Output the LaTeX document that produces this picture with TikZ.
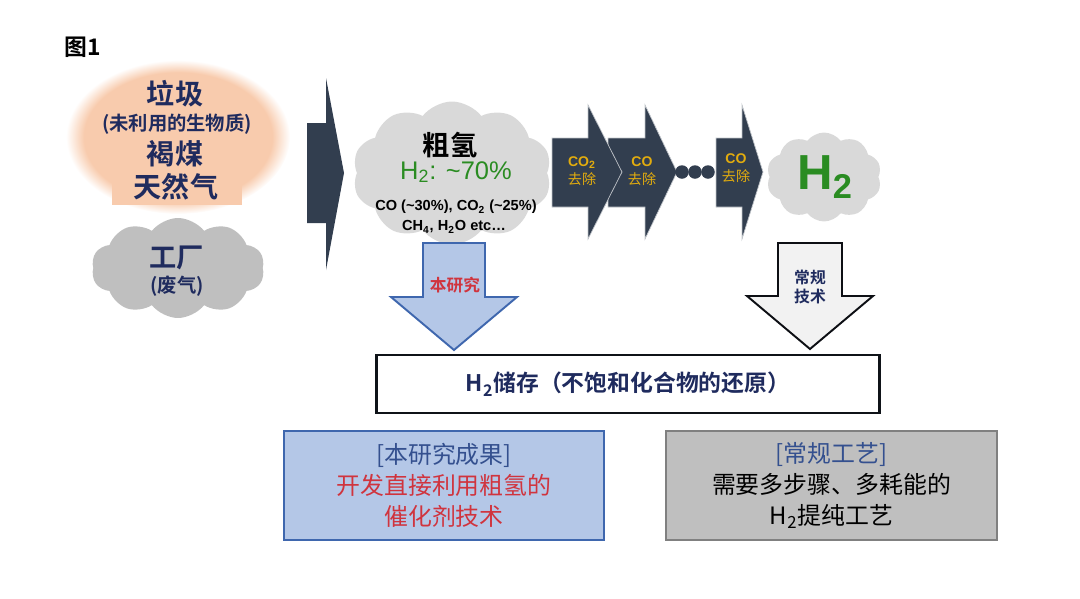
\documentclass[tikz,border=0pt]{standalone}
\usepackage{fontspec}
\usepackage{xcolor}
\usepackage{tikz}
\usetikzlibrary{shapes.symbols}
\setmainfont{Liberation Sans}
\newfontfamily\cjk{Noto Sans CJK SC}[BoldFont={Noto Sans CJK SC Bold}]
\newcommand\setfs[2]{\fontsize{#1}{#2}\selectfont}
\definecolor{navy}{HTML}{1F2B5E}
\definecolor{slate}{HTML}{323E4F}
\definecolor{peach}{HTML}{F8CBAD}
\definecolor{fog}{HTML}{D9D9D9}
\definecolor{smoke}{HTML}{BFBFBF}
\definecolor{leaf}{HTML}{2A8C22}
\definecolor{gold}{HTML}{E2AC0E}
\definecolor{paleblue}{HTML}{B4C7E7}
\definecolor{edgeblue}{HTML}{3F67AE}
\definecolor{redtext}{HTML}{D0343E}
\definecolor{headblue}{HTML}{34508F}
\pgfdeclareradialshading{softpeach}{\pgfpoint{0bp}{0bp}}{color(0bp)=(peach); color(21bp)=(peach); color(25bp)=(white); color(50bp)=(white)}

\begin{document}
\begin{tikzpicture}[x=0.02cm, y=-0.02cm,
  every node/.style={inner sep=0pt, align=center},
  puff/.style={cloud, cloud puffs=10, cloud puff arc=105, cloud ignores aspect, draw=none, inner sep=0pt},
  source/.style={font=\cjk\bfseries\setfs{16}{19}, text=navy},
  note/.style={font=\cjk\bfseries\setfs{11}{13}, text=navy},
  chevron/.style={fill=slate, draw=white!70!slate, line width=0.4pt},
  dot/.style={circle, fill=slate, minimum size=0.27cm},
  steplabel/.style={font=\setfs{8}{10.5}, text=gold},
  downarrow/.style={line width=1.1pt, line join=miter},
  panel/.style={minimum height=2.18cm, line width=1.1pt, font=\cjk\setfs{13.6}{17.5}}
]
\useasboundingbox (0,0) rectangle (1080,599);

% Title
\node[font=\cjk\bfseries\setfs{13}{15}] (fig) at (83,47) {图1};

% Sources
\shade[shading=softpeach] (178,137) ellipse [x radius=112, y radius=77];
\fill[peach] (112,150) rectangle (242,205);
\node[source] (waste) at (175,94) {垃圾};
\node[note] (bio) at (177,124) {(未利用的生物质)};
\node[source] (lignite) at (175,154) {褐煤};
\node[source] (gas) at (176,187) {天然气};

\node[puff, fill=smoke, minimum width=3.46cm, minimum height=2cm] (plantcloud) at (178,268) {};
\node[source, font=\cjk\bfseries\setfs{15.5}{18}] (plant) at (177,258) {工厂};
\node[note] (exhaust) at (177,286) {(废气)};

% Big arrow
\fill[slate] (307,123) -- (326,123) -- (326,78) -- (344,173) -- (326,270) -- (326,223) -- (307,223) -- cycle;

% Crude hydrogen
\node[puff, fill=fog, minimum width=3.98cm, minimum height=2.86cm] (crudecloud) at (452,173) {};
\node[font=\cjk\bfseries\setfs{15.5}{18}] (crude) at (450,145) {粗氢};
\node[font=\setfs{14.5}{17}, text=leaf] (ratio) at (456,172) {H\textsubscript{2}: \textasciitilde70\%};
\node[font=\bfseries\setfs{8.3}{10}] (mix1) at (456,207) {CO (\textasciitilde30\%), CO\textsubscript{2} (\textasciitilde25\%)};
\node[font=\bfseries\setfs{8.3}{10}] (mix2) at (454,227) {CH\textsubscript{4}, H\textsubscript{2}O etc…};

% Purification steps
\foreach \xa/\xb/\xc in {716/742/763, 608/645/677, 552/588/622}
  \filldraw[chevron] (\xa,138) -- (\xb,138) -- (\xb,105) -- (\xc,172) -- (\xb,239) -- (\xb,207) -- (\xa,207) -- cycle;
\foreach \x [count=\i] in {682,695,708}
  \node[dot] (dot\i) at (\x,172) {};
\node[steplabel] (co2cut) at (582,171) {\textbf{CO\textsubscript{2}}\\{\cjk 去除}};
\node[steplabel] (cocut) at (642,171) {\textbf{CO}\\{\cjk 去除}};
\node[steplabel] (cocut2) at (736,168) {\textbf{CO}\\{\cjk 去除}};

\node[puff, fill=fog, minimum width=2.3cm, minimum height=1.78cm] (purecloud) at (824,177) {};
\node[font=\bfseries\setfs{28}{32}, text=leaf] (pure) at (825,177) {H\textsubscript{2}};

% Down arrows
\filldraw[fill=paleblue, draw=edgeblue, downarrow] (423,243) -- (485,243) -- (485,297) -- (517,297) -- (454,350) -- (391,297) -- (423,297) -- cycle;
\node[font=\cjk\bfseries\setfs{9.5}{11}, text=redtext] (ours) at (455,285) {本研究};
\filldraw[fill=black!5, draw=black!75!slate, downarrow] (778,243) -- (842,243) -- (842,296) -- (873,296) -- (810,349) -- (747,296) -- (778,296) -- cycle;
\node[font=\cjk\bfseries\setfs{9}{11}, text=navy] (usual) at (810,287) {常规\\技术};

% Storage box
\node[draw=black!70!slate, fill=white, line width=1.6pt, minimum width=10.06cm, minimum height=1.16cm,
  font=\cjk\bfseries\setfs{13}{15}, text=navy] (store) at (628,384) {H\textsubscript{2}储存（不饱和化合物的还原）};

% Result panels
\node[panel, draw=edgeblue, fill=paleblue, minimum width=6.4cm] (result) at (444,485.5)
  {\textcolor{headblue}{[本研究成果]}\\\textcolor{redtext}{开发直接利用粗氢的}\\\textcolor{redtext}{催化剂技术}};
\node[panel, draw=black!50, fill=smoke, minimum width=6.62cm] (process) at (831.5,485.5)
  {\textcolor{headblue}{[常规工艺]}\\需要多步骤、多耗能的\\H\textsubscript{2}提纯工艺};

\end{tikzpicture}
\end{document}
